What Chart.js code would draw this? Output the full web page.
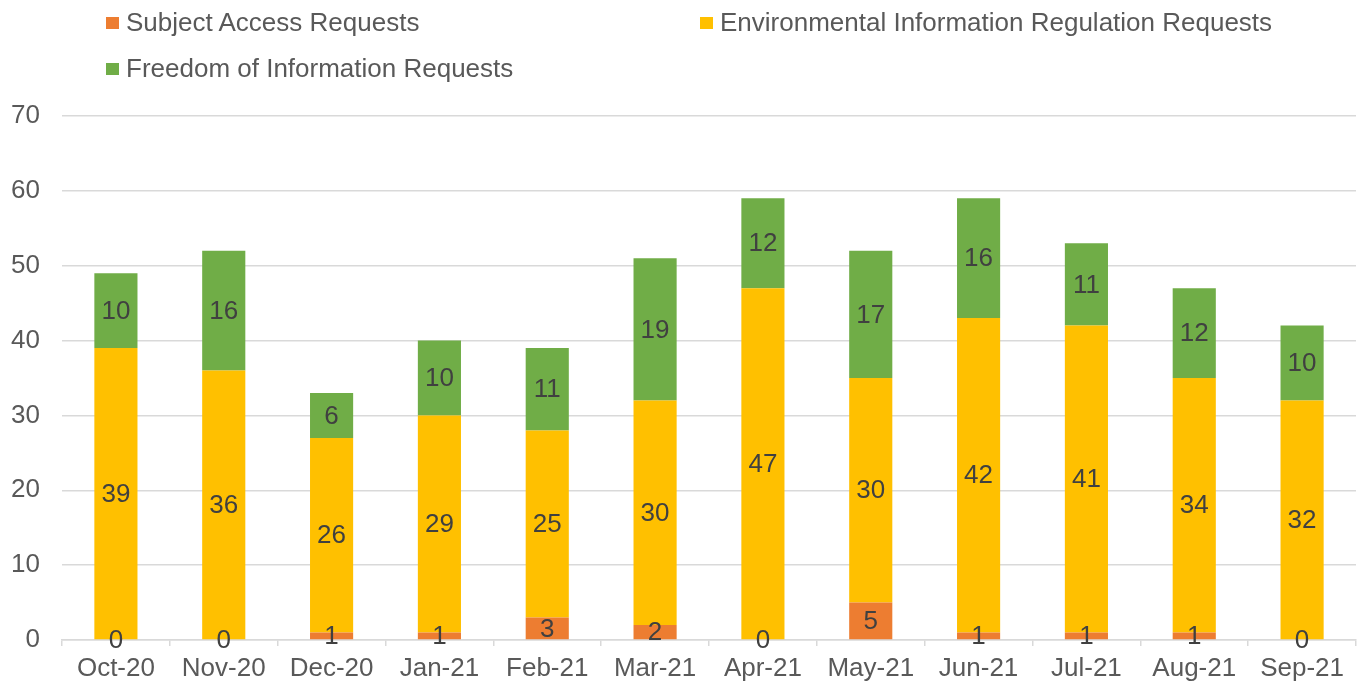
<!DOCTYPE html>
<html>
<head>
<meta charset="utf-8">
<script src="https://cdn.jsdelivr.net/npm/chart.js@4.4.1/dist/chart.umd.min.js"></script>
<style>
  html, body { margin: 0; padding: 0; background: #fff; }
  #wrap { position: relative; width: 1365px; height: 686px; }
  #legend { position: absolute; left: 0; top: 0; width: 1365px; height: 100px;
    font-family: "Liberation Sans", Arial, sans-serif; font-size: 26px; color: #595959; }
  .item { position: absolute; white-space: nowrap; line-height: 30px; }
  .box { position: absolute; width: 13px; height: 12px; top: 10px; left: -20px; }
</style>
</head>
<body>
<div id="wrap">
  <canvas id="chart" width="1365" height="686"></canvas>
  <div id="legend"></div>
</div>
<script>
// data
var months = ['Oct-20','Nov-20','Dec-20','Jan-21','Feb-21','Mar-21','Apr-21','May-21','Jun-21','Jul-21','Aug-21','Sep-21']
var subjectAccess = [0,0,1,1,3,2,0,5,1,1,1,0]
var envInfo = [39,36,26,29,25,30,47,30,42,41,34,32]
var freedomInfo = [10,16,6,10,11,19,12,17,16,11,12,10]
var yTicks = [0,10,20,30,40,50,60,70]

var seriesNames = ['Subject Access Requests','Environmental Information Regulation Requests','Freedom of Information Requests']
var seriesColors = ['#ED7D31','#FFC000','#70AD47']

// legend, laid out like the excel one
var legendSpots = [[126,7],[720,7],[126,53]]
var legendBox = document.getElementById('legend')
for (var i = 0; i < seriesNames.length; i++) {
	var item = `<div class="item" style="left:${legendSpots[i][0]}px; top:${legendSpots[i][1]}px">
					<span class="box" style="background:${seriesColors[i]}"></span>${seriesNames[i]}
				</div>`
	legendBox.innerHTML += item
}

// value labels in the middle of each bar segment
const barLabels = {
	id: 'barLabels',
	afterDatasetsDraw(chart) {
		const ctx = chart.ctx
		ctx.save()
		ctx.font = '26px "Liberation Sans", Arial, sans-serif'
		ctx.fillStyle = '#404040'
		ctx.textAlign = 'center'
		ctx.textBaseline = 'middle'
		chart.data.datasets.forEach(function(ds, di) {
			const meta = chart.getDatasetMeta(di)
			meta.data.forEach(function(bar, j) {
				const y = (bar.y + bar.base) / 2
				ctx.fillText(String(ds.data[j]), bar.x, y + 1)
			})
		})
		ctx.restore()
	}
}

const tickFont = { family: '"Liberation Sans", Arial, sans-serif', size: 26 }

const ctxChart = document.getElementById('chart').getContext('2d')
const reqChart = new Chart(ctxChart, {
	type: 'bar',
	data: {
		labels: months,
		datasets: [
			{ label: seriesNames[0], data: subjectAccess, backgroundColor: seriesColors[0] },
			{ label: seriesNames[1], data: envInfo, backgroundColor: seriesColors[1] },
			{ label: seriesNames[2], data: freedomInfo, backgroundColor: seriesColors[2] }
		]
	},
	options: {
		responsive: false,
		animation: false,
		layout: { padding: { top: 116, left: 10, right: 9, bottom: 3 } },
		datasets: {
			bar: { barPercentage: 0.4, categoryPercentage: 1, borderWidth: 0 }
		},
		scales: {
			x: {
				stacked: true,
				afterFit: function(scale) { scale.height = 43 },
				grid: { drawOnChartArea: false, drawTicks: true, tickLength: 6, color: '#D9D9D9', lineWidth: 1.5 },
				border: { color: '#D9D9D9', width: 1.5 },
				ticks: { font: tickFont, color: '#595959', padding: 7, maxRotation: 0, autoSkip: false }
			},
			y: {
				stacked: true,
				min: yTicks[0],
				max: yTicks[yTicks.length - 1],
				afterBuildTicks: function(scale) {
					scale.ticks = yTicks.map(function(v) { return { value: v } })
				},
				afterFit: function(scale) { scale.width = 52 },
				grid: { drawTicks: false, color: '#D9D9D9', lineWidth: 1.5 },
				border: { display: false },
				ticks: { font: tickFont, color: '#595959', padding: 22 }
			}
		},
		plugins: {
			legend: { display: false },
			tooltip: { enabled: false }
		}
	},
	plugins: [barLabels]
})
</script>
</body>
</html>
